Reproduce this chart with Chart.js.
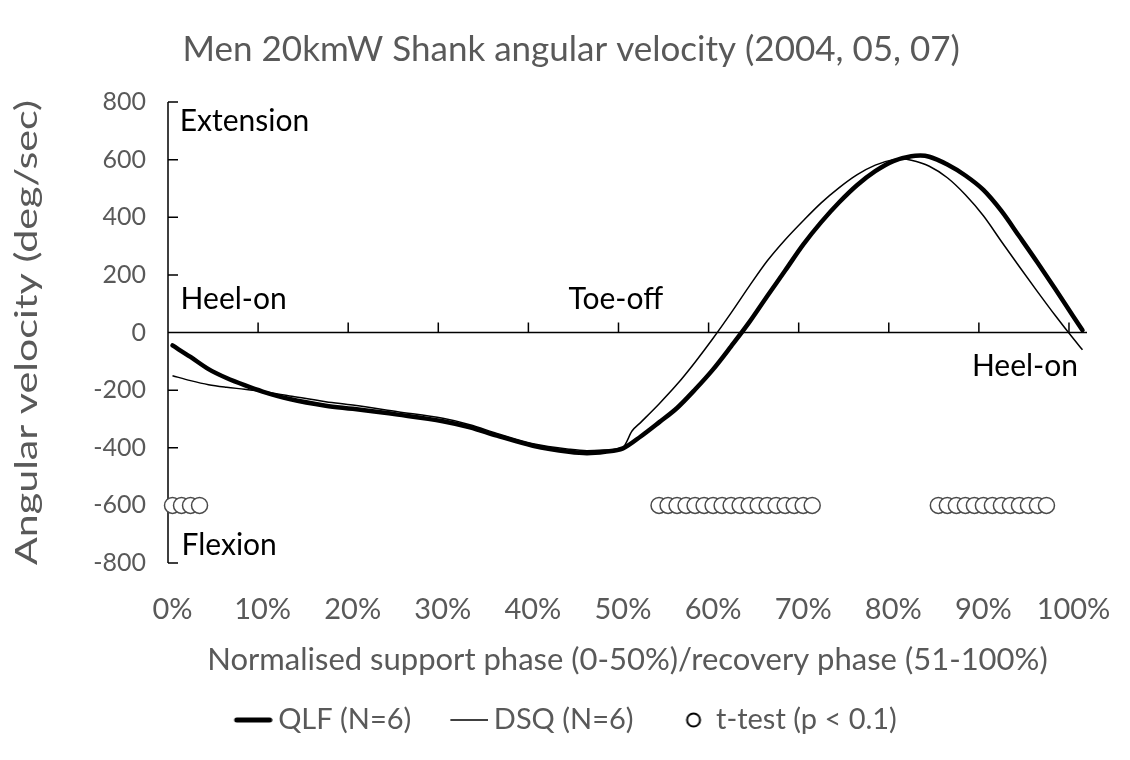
<!DOCTYPE html>
<html>
<head>
<meta charset="utf-8">
<script src="https://cdn.jsdelivr.net/npm/chart.js@4/dist/chart.umd.min.js"></script>
<style>
  html, body { margin: 0; padding: 0; background: #fff; }
  #wrap { width: 1130px; height: 760px; }
</style>
</head>
<body>
<div id="wrap"><canvas id="chart" width="1130" height="760"></canvas></div>
<script>
// Men 20kmW shank angular velocity, QLF vs DSQ

const qlfPhase  = [0, 2, 4, 6, 8, 10, 13, 17, 20, 25, 30, 33, 36, 40, 44, 46, 48, 50, 52, 54, 56, 58, 60, 62, 64, 66, 68, 70, 72, 74, 76, 78, 80, 82, 83, 84, 86, 88, 90, 92, 94, 96, 98, 100, 101];
const qlfValues = [-45, -85, -127, -158, -183, -205, -231, -254, -265, -285, -308, -329, -358, -393, -414, -419, -414, -402, -360, -312, -262, -198, -128, -48, 35, 126, 215, 305, 383, 452, 512, 560, 595, 612, 614, 610, 583, 545, 495, 422, 333, 243, 150, 55, 8];

const dsqPhase  = [0, 2, 4, 6, 8, 10, 13, 17, 20, 25, 30, 33, 36, 40, 44, 46, 48, 50, 51, 52, 54, 56, 58, 60, 62, 64, 66, 68, 70, 72, 74, 76, 78, 80, 81, 82, 84, 86, 88, 90, 92, 94, 96, 98, 100, 101];
const dsqValues = [-150, -167, -181, -190, -197, -205, -220, -240, -252, -275, -298, -320, -350, -386, -405, -410, -408, -398, -342, -311, -248, -180, -103, -20, 68, 160, 248, 322, 388, 450, 503, 548, 581, 600, 602, 598, 577, 537, 478, 405, 316, 228, 142, 58, -22, -60];

// phases where t-test p < 0.1, plotted on the -600 line
const ttestPhase = [0, 1, 2, 3,
  54, 55, 56, 57, 58, 59, 60, 61, 62, 63, 64, 65, 66, 67, 68, 69, 70, 71,
  85, 86, 87, 88, 89, 90, 91, 92, 93, 94, 95, 96, 97];
const ttestLevel = -600;

const xTickValues = [0, 10, 20, 30, 40, 50, 60, 70, 80, 90, 100];
const xTickLabels = ['0%', '10%', '20%', '30%', '40%', '50%', '60%', '70%', '80%', '90%', '100%'];
const yTicks = [-800, -600, -400, -200, 0, 200, 400, 600, 800];

const notes = [
  { text: 'Extension', x: 0.8,  y: 734,  align: 'left' },
  { text: 'Heel-on',   x: 0.9,  y: 115,  align: 'left' },
  { text: 'Toe-off',   x: 49.2, y: 115,  align: 'center' },
  { text: 'Heel-on',   x: 100.5, y: -118, align: 'right' },
  { text: 'Flexion',   x: 1.0,  y: -737, align: 'left' },
];

const FONT = 'Lato';
const GREY = '#595959';
const Y_TITLE = 'Angular velocity (deg/sec)';

Chart.defaults.font.family = FONT;
Chart.defaults.font.size = 29;
Chart.defaults.color = GREY;

// legend swatches
function swatch(w, h, draw) {
  const c = document.createElement('canvas');
  c.width = w; c.height = h;
  draw(c.getContext('2d'));
  return c;
}
const thickSwatch = swatch(76, 8, g => {
  g.strokeStyle = '#000'; g.lineWidth = 5; g.lineCap = 'round';
  g.beginPath(); g.moveTo(40, 4); g.lineTo(73, 4); g.stroke();
});
const thinSwatch = swatch(76, 4, g => {
  g.strokeStyle = '#000'; g.lineWidth = 1.5;
  g.beginPath(); g.moveTo(38, 2); g.lineTo(76, 2); g.stroke();
});
const circleSwatch = swatch(62, 18, g => {
  g.strokeStyle = '#000'; g.lineWidth = 2; g.fillStyle = '#fff';
  g.beginPath(); g.arc(52, 9, 6.5, 0, Math.PI * 2); g.fill(); g.stroke();
});

const axisLines = {
  id: 'axisLines',
  afterLayout(chart) {
    // Excel centres the title a little right of the legend
    chart.titleBlock.left += 40;
  },
  beforeDatasetsDraw(chart) {
    const { ctx, scales: { x, y } } = chart;
    const x0 = x.getPixelForValue(x.min);
    const x1 = x.getPixelForValue(x.max);
    const y0 = y.getPixelForValue(0);
    ctx.save();
    ctx.strokeStyle = '#000';
    ctx.lineWidth = 1.5;
    ctx.beginPath();
    ctx.moveTo(x0, y.getPixelForValue(y.max));
    ctx.lineTo(x0, y.getPixelForValue(y.min));
    yTicks.forEach(v => {
      const py = y.getPixelForValue(v);
      ctx.moveTo(x0, py); ctx.lineTo(x0 + 10, py);
    });
    ctx.moveTo(x0, y0); ctx.lineTo(x1, y0);
    xTickValues.slice(1).forEach(v => {
      const px = x.getPixelForValue(v - 0.5);
      ctx.moveTo(px, y0); ctx.lineTo(px, y0 - 10);
    });
    ctx.stroke();

    // y axis title, stretched along its length like the original
    const area = chart.chartArea;
    ctx.font = `31px ${FONT}`;
    ctx.fillStyle = GREY;
    ctx.textAlign = 'center';
    ctx.textBaseline = 'middle';
    const len = area.bottom - area.top + 4;
    ctx.translate(27, (area.top + area.bottom) / 2);
    ctx.rotate(-Math.PI / 2);
    ctx.scale(len / ctx.measureText(Y_TITLE).width, 1);
    ctx.fillText(Y_TITLE, 0, 0);
    ctx.restore();
  },
  afterDatasetsDraw(chart) {
    const { ctx, scales: { x, y } } = chart;
    ctx.save();
    ctx.font = `30px ${FONT}`;
    ctx.fillStyle = '#000';
    ctx.textBaseline = 'middle';
    notes.forEach(n => {
      ctx.textAlign = n.align;
      ctx.fillText(n.text, x.getPixelForValue(n.x), y.getPixelForValue(n.y));
    });
    ctx.restore();
  },
};

new Chart(document.getElementById('chart'), {
  type: 'line',
  data: {
    datasets: [
      {
        label: 'QLF (N=6)',
        data: qlfPhase.map((p, i) => ({ x: p, y: qlfValues[i] })),
        borderColor: '#000',
        borderWidth: 4.5,
        borderCapStyle: 'round',
        pointRadius: 0,
        cubicInterpolationMode: 'monotone',
        clip: false,
      },
      {
        label: 'DSQ (N=6)',
        data: dsqPhase.map((p, i) => ({ x: p, y: dsqValues[i] })),
        borderColor: '#000',
        borderWidth: 1.5,
        pointRadius: 0,
        cubicInterpolationMode: 'monotone',
        clip: false,
      },
      {
        label: 't-test (p < 0.1)',
        data: ttestPhase.map(p => ({ x: p, y: ttestLevel })),
        showLine: false,
        pointStyle: 'circle',
        pointRadius: 8,
        pointHoverRadius: 8,
        pointBorderWidth: 1.5,
        pointBorderColor: '#4a4a4a',
        pointBackgroundColor: '#fff',
        clip: false,
      },
    ],
  },
  options: {
    responsive: false,
    animation: false,
    events: [],
    layout: { padding: { left: 0, right: 27.5, top: 0, bottom: 15.5 } },
    plugins: {
      title: {
        display: true,
        text: 'Men 20kmW Shank angular velocity (2004, 05, 07)',
        color: GREY,
        font: { size: 35, weight: 'normal' },
        padding: { top: 29, bottom: 31 },
      },
      legend: {
        position: 'bottom',
        labels: {
          usePointStyle: true,
          pointStyleWidth: 58,
          padding: 10,
          color: GREY,
          font: { size: 29 },
          generateLabels: () => [
            { text: 'QLF (N=6)', pointStyle: thickSwatch, fontColor: GREY, lineWidth: 0, hidden: false, datasetIndex: 0 },
            { text: 'DSQ (N=6)', pointStyle: thinSwatch, fontColor: GREY, lineWidth: 0, hidden: false, datasetIndex: 1 },
            { text: 't-test (p < 0.1)', pointStyle: circleSwatch, fontColor: GREY, lineWidth: 0, hidden: false, datasetIndex: 2 },
          ],
        },
      },
      tooltip: { enabled: false },
    },
    scales: {
      x: {
        type: 'linear',
        min: -0.5,
        max: 101.5,
        afterBuildTicks: s => { s.ticks = xTickValues.map(v => ({ value: v })); },
        afterFit: s => { s.height = 132.5; },
        grid: { display: false, drawTicks: true, tickLength: 27 },
        border: { display: false },
        ticks: {
          padding: 2,
          maxRotation: 0,
          autoSkip: false,
          color: GREY,
          callback: (v, i) => xTickLabels[i],
        },
        title: {
          display: true,
          text: 'Normalised support phase (0-50%)/recovery phase (51-100%)',
          color: GREY,
          font: { size: 31 },
          padding: { top: 0, bottom: 16.9 },
        },
      },
      y: {
        min: -800,
        max: 800,
        afterBuildTicks: s => { s.ticks = yTicks.map(v => ({ value: v })); },
        afterFit: s => { s.width = 168; },
        grid: { display: false, drawTicks: false },
        border: { display: false },
        ticks: { padding: 22, color: GREY, font: { size: 25 } },
        title: { display: false },
      },
      yRight: {
        position: 'right',
        display: true,
        grid: { display: false, drawTicks: false },
        border: { display: false },
        ticks: { display: false },
        afterFit: s => { s.width = 1130 - 27.5 - 1087; },
      },
    },
  },
  plugins: [axisLines],
});
</script>
</body>
</html>
